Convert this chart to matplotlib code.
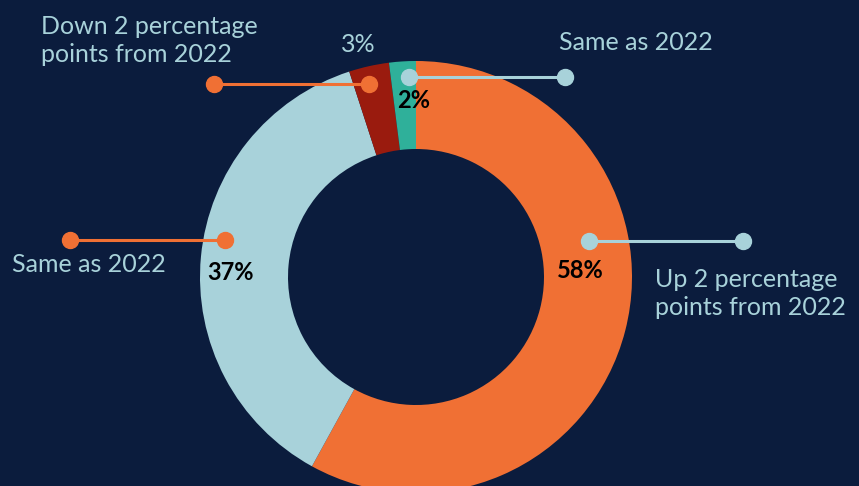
import matplotlib.pyplot as plt

# Datos del gráfico de anillo
shares = [58, 37, 3, 2]
colors = ["#F07034", "#A8D2DA", "#9A1B0E", "#2FB09A"]
notes = ["Up 2 percentage\npoints from 2022", "Same as 2022",
         "Down 2 percentage\npoints from 2022", "Same as 2022"]

BG = "#0B1C3D"
LIGHT = "#A8D2DA"
ORANGE = "#F07034"
W, H = 859, 486

plt.rcParams['font.family'] = ['Lato', 'DejaVu Sans']

fig = plt.figure(figsize=(W / 100, H / 100), dpi=100)
fig.patch.set_facecolor(BG)
ax = fig.add_axes([0, 0, 1, 1])
ax.set_facecolor(BG)

cx, cy = 416, H - 277
R, r = 216, 128
ax.pie(shares, colors=colors, startangle=90, counterclock=False,
       radius=R, center=(cx, cy), wedgeprops=dict(width=R - r, linewidth=0))

ax.set_xlim(0, W)
ax.set_ylim(0, H)
ax.set_aspect('equal')
ax.axis('off')


def Y(y):
    return H - y


# Conectores (línea con punto en cada extremo)
connectors = [
    ((589, 241), (743, 241), LIGHT),   # 58%
    ((225, 240), (70, 240), ORANGE),   # 37%
    ((369, 84), (214, 84), ORANGE),    # 3%
    ((409, 77), (565, 77), LIGHT),     # 2%
]
for (x0, y0), (x1, y1), c in connectors:
    ax.plot([x0, x1], [Y(y0), Y(y1)], color=c, lw=2.2,
            marker='o', ms=11.5, solid_capstyle='butt')

# Etiquetas de porcentaje
pct = [f"{v}%" for v in shares]
ax.text(580, Y(271), pct[0], color="black", fontsize=17, fontweight='bold',
        ha='center', va='center')
ax.text(231, Y(273), pct[1], color="black", fontsize=17, fontweight='bold',
        ha='center', va='center')
ax.text(358, Y(45), pct[2], color=LIGHT, fontsize=18,
        ha='center', va='center')
ax.text(414, Y(100), pct[3], color="black", fontsize=17, fontweight='bold',
        ha='center', va='center')

# Notas de cambio respecto a 2022
ax.text(655, Y(315), notes[0], color=LIGHT, fontsize=18, ha='left',
        va='baseline', linespacing=1.25)
ax.text(12, Y(272), notes[1], color=LIGHT, fontsize=18, ha='left',
        va='baseline')
ax.text(41, Y(62), notes[2], color=LIGHT, fontsize=18, ha='left',
        va='baseline', linespacing=1.25)
ax.text(559, Y(50), notes[3], color=LIGHT, fontsize=18, ha='left',
        va='baseline')

fig.savefig("out.png", dpi=100, facecolor=BG)
